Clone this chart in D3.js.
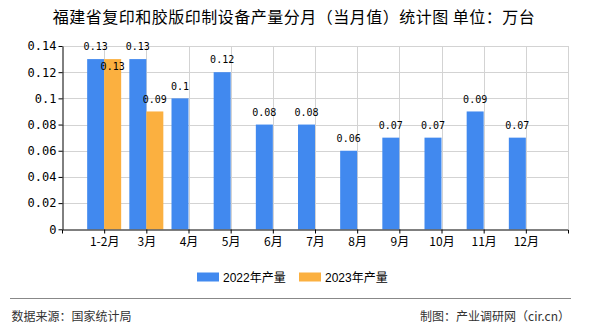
<!DOCTYPE html>
<html><head><meta charset="utf-8">
<script src="https://cdn.jsdelivr.net/npm/d3@7"></script>
<style>
html,body{margin:0;padding:0;background:#fff;}
svg{display:block;}
</style>
</head><body>
<svg id="c" width="590" height="330"></svg>
<script>
const title = "福建省复印和胶版印制设备产量分月（当月值）统计图 单位：万台";
const categories = ["1-2月","3月","4月","5月","6月","7月","8月","9月","10月","11月","12月"];
const series2022 = [0.13,0.13,0.1,0.12,0.08,0.08,0.06,0.07,0.07,0.09,0.07];
const series2023 = [0.13,0.09,null,null,null,null,null,null,null,null,null];
const seriesNames = ["2022年产量","2023年产量"];
const yTicks = [0,0.02,0.04,0.06,0.08,0.1,0.12,0.14];
const sourceText = "数据来源：国家统计局";
const creditText = "制图：产业调研网（cir.cn）";

const colors = ["#4189ef","#fbb040"];
const svg = d3.select("#c");
const L = 62, R = 568, T = 46, B = 229.3;
const x = d3.scalePoint().domain(categories).range([L, R]).padding(1);
const y = d3.scaleLinear().domain([0, 0.14]).range([B, T]);
const bw = 17;

// gridlines
const g = svg.append("g");
g.selectAll("line.h").data(yTicks.filter(d => d > 0)).enter().append("line")
  .attr("x1", L).attr("x2", R).attr("y1", d => Math.round(y(d)) + 0.5).attr("y2", d => Math.round(y(d)) + 0.5)
  .attr("stroke", "#d3d3d3").attr("stroke-width", 1);
g.selectAll("line.v").data(categories.map(c => x(c)).concat([R])).enter().append("line")
  .attr("x1", d => Math.round(d) + 0.5).attr("x2", d => Math.round(d) + 0.5).attr("y1", T).attr("y2", B)
  .attr("stroke", "#d3d3d3").attr("stroke-width", 1);

// bars
const data = [series2022, series2023];
data.forEach((s, si) => {
  svg.append("g").selectAll("rect").data(s.map((v, i) => ({v, c: categories[i]})).filter(d => d.v != null))
    .enter().append("rect")
    .attr("x", d => x(d.c) - bw + si * bw).attr("width", bw)
    .attr("y", d => y(d.v)).attr("height", d => B - y(d.v))
    .attr("fill", colors[si]);
});

// labels with simple collision avoidance
const lab = svg.append("g").attr("font-family", "'DejaVu Sans Mono', monospace").attr("font-size", 10)
  .attr("text-anchor", "middle").attr("fill", "#000");
categories.forEach((c, i) => {
  const a = series2022[i], b = series2023[i];
  if (a != null) lab.append("text").attr("x", x(c) - bw / 2).attr("y", y(a) - 8.7).text(a);
  if (b != null) {
    let yy = y(b) - 8.7;
    if (a != null && Math.abs(y(a) - y(b)) < 12) yy += 20;
    lab.append("text").attr("x", x(c) + bw / 2).attr("y", yy).text(b);
  }
});

// axes
const ya = svg.append("g").attr("transform", `translate(${L + 0.5},0)`)
  .call(d3.axisLeft(y).tickValues(yTicks).tickFormat(d => d).tickSize(4).tickSizeOuter(0).tickPadding(2));
ya.select(".domain").attr("stroke", "#000");
ya.selectAll(".tick line").attr("stroke", "#000");
ya.selectAll("text").attr("font-family", "'DejaVu Sans Mono', monospace").attr("font-size", 12).attr("fill", "#000");

const xa = svg.append("g").attr("transform", `translate(0,${Math.round(B) + 0.5})`)
  .call(d3.axisBottom(x).tickSize(4).tickSizeOuter(4).tickPadding(4));
xa.select(".domain").attr("stroke", "#000");
xa.selectAll(".tick line").attr("stroke", "#000");
xa.selectAll("text").attr("font-family", "'Noto Sans CJK SC', sans-serif").attr("font-size", 12).attr("fill", "#000");

// title
svg.append("text").attr("x", 294).attr("y", 23).attr("text-anchor", "middle")
  .attr("font-family", "'Noto Sans CJK SC', sans-serif").attr("font-size", 16).attr("letter-spacing", 0.5)
  .attr("fill", "#000").text(title);

// legend
const legX = [197, 299];
seriesNames.forEach((n, i) => {
  svg.append("rect").attr("x", legX[i]).attr("y", 272.5).attr("width", 22).attr("height", 9).attr("fill", colors[i]);
  svg.append("text").attr("x", legX[i] + 26).attr("y", 281.5)
    .attr("font-family", "'Liberation Sans', 'Noto Sans CJK SC', sans-serif").attr("font-size", 12)
    .attr("fill", "#000").text(n);
});

// footer
svg.append("line").attr("x1", 10).attr("x2", 571).attr("y1", 298.5).attr("y2", 298.5).attr("stroke", "#888");
svg.append("text").attr("x", 11.5).attr("y", 320.5).attr("font-family", "'Noto Sans CJK SC', sans-serif")
  .attr("font-size", 12).attr("fill", "#333").text(sourceText);
svg.append("text").attr("x", 570).attr("y", 320.5).attr("text-anchor", "end").attr("font-family", "'Noto Sans CJK SC', sans-serif")
  .attr("font-size", 12).attr("fill", "#333").text(creditText);
</script>
</body></html>
